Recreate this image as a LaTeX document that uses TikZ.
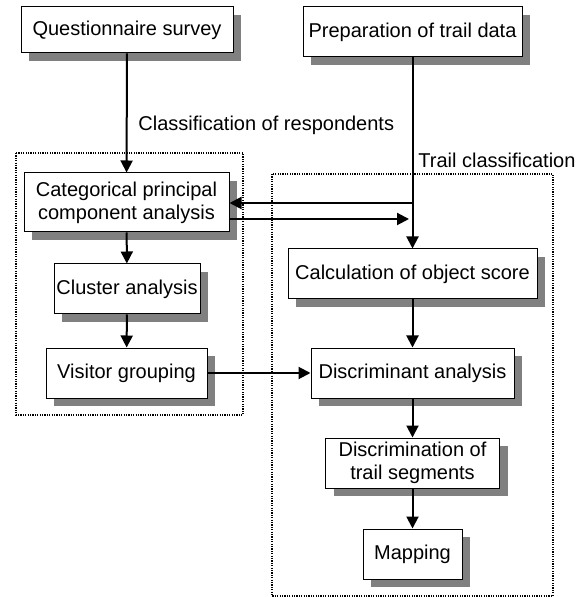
\documentclass[tikz,border=0pt]{standalone}
\usepackage{fontspec}
\setmainfont{Liberation Sans}
\usetikzlibrary{arrows.meta,shadows}

\begin{document}
\begin{tikzpicture}[x=0.5pt, y=-0.5pt,
        proc/.style={draw, line width=0.5pt, fill=white, inner sep=0pt, align=center,
            font=\fontsize{10}{11.5}\selectfont, minimum height=25pt,
            drop shadow={shadow xshift=4pt, shadow yshift=-4pt, fill=black!50, opacity=1}},
        arr/.style={line width=1pt, -{Triangle[width=6pt, length=6pt]}},
        groupbox/.style={line width=0.6pt, dash pattern=on 0.6pt off 0.6pt},
        lbl/.style={anchor=west, inner sep=0pt, font=\fontsize{10}{11.5}\selectfont}]
        \useasboundingbox (0,0) rectangle (586,597);

        % Group frames
        \draw[groupbox] (16,153) rectangle (243,415);
        \draw[groupbox] (272,174) rectangle (553,596);

        % Left column
        \node[proc, minimum width=106pt, minimum height=23pt] (survey) at (127,30) {Questionnaire survey};
        \node[proc, minimum width=102.5pt, minimum height=29.5pt] (catpca) at (126.5,202.5) {Categorical principal\\component analysis};
        \node[proc, minimum width=73pt] (cluster) at (127,289) {Cluster analysis};
        \node[proc, minimum width=80.5pt] (visitor) at (126.5,373) {Visitor grouping};

        % Right column
        \node[proc, minimum width=109.5pt] (trail) at (412.5,32) {Preparation of trail data};
        \node[proc, minimum width=124.5pt] (score) at (412.5,274) {Calculation of object score};
        \node[proc, minimum width=101.5pt] (discr) at (412.5,373) {Discriminant analysis};
        \node[proc, minimum width=87pt] (segment) at (412.5,463) {Discrimination of\\trail segments};
        \node[proc, minimum width=49.5pt] (mapping) at (412.5,554) {Mapping};

        % Group labels
        \node[lbl] (respLabel) at (138,125) {Classification of respondents};
        \node[lbl] (trailLabel) at (418,160) {Trail classification};

        % Flow arrows
        \draw[arr] (survey) -- (catpca);
        \draw[arr] (catpca) -- (cluster);
        \draw[arr] (cluster) -- (visitor);
        \draw[arr] (trail) -- (score);
        \draw[arr] (score) -- (discr);
        \draw[arr] (discr) -- (segment);
        \draw[arr] (segment) -- (mapping);
        \draw[arr] (visitor) -- (discr);

        % Exchange between the two groups
        \coordinate (split) at (412.5,203);
        \coordinate (back) at (409,219);
        \draw[arr] (split) -- (split -| catpca.east);
        \draw[arr] (back -| catpca.east) -- (back);

    \end{tikzpicture}
\end{document}
